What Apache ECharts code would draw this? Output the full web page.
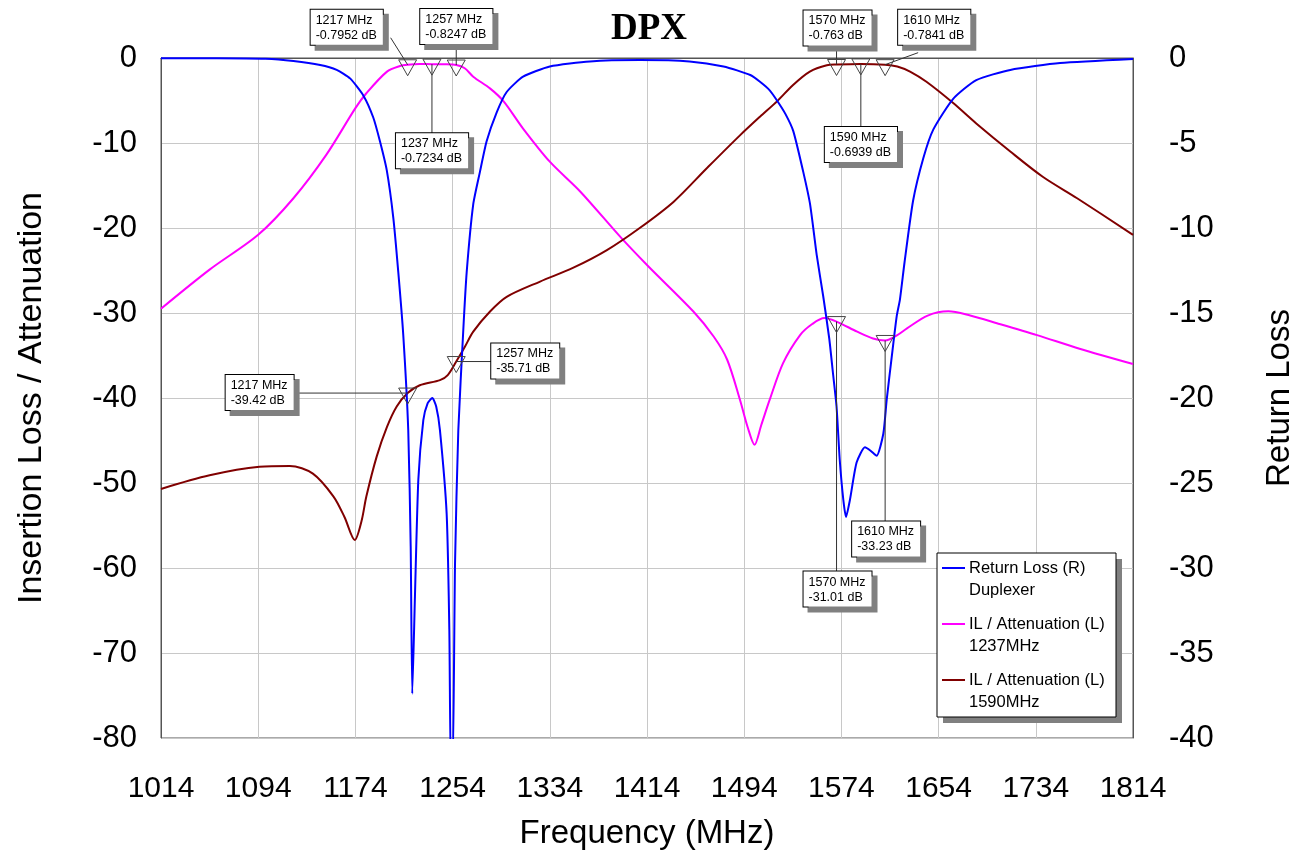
<!DOCTYPE html>
<html>
<head>
<meta charset="utf-8">
<title>DPX</title>
<script src="https://cdn.jsdelivr.net/npm/echarts@6/dist/echarts.min.js"></script>
<style>html,body{margin:0;background:#fff}#main{width:1308px;height:858px}</style>
</head>
<body>
<div id="main"></div>
<script>
// x axis runs from 1014 MHz with a tick every 80 MHz, so data is plotted as offset from F0
var F0 = 1014;

// Return Loss (R) Duplexer - right axis
var rlFreq = [1014, 1060, 1100, 1123, 1145, 1158.6, 1169.6, 1180.5, 1188.7, 1194.2, 1199.8, 1205.2, 1209.3, 1213.4,
  1217.5, 1219.5, 1220.8, 1223, 1225.8, 1229.9, 1233.5, 1237.3, 1240.5, 1243.6, 1249.1, 1251.3, 1252.6, 1254,
  1256, 1258.7, 1262.8, 1265.6, 1271, 1276.5, 1282, 1290.3, 1298.5, 1312, 1334, 1367, 1408, 1449, 1477, 1499,
  1507, 1515, 1521, 1528, 1534.4, 1542.6, 1548.2, 1553.7, 1559, 1564, 1567, 1570, 1572.6, 1575.6, 1577.8, 1581,
  1586.5, 1593.4, 1598, 1603, 1608.5, 1611.3, 1615.4, 1619.5, 1622.2, 1626, 1633, 1641.4, 1649.7, 1666, 1685,
  1713, 1754, 1814];
var rlDb = [-0.02, -0.02, -0.05, -0.18, -0.41, -0.7, -1.2, -2.2, -3.5, -4.9, -6.6, -9.4, -12.6, -16.3,
  -21.9, -28.7, -37.4, -31.7, -24.8, -21.3, -20.3, -20.0, -20.5, -21.9, -26.8, -33.6, -42, -42,
  -29.7, -21.9, -16.0, -12.6, -8.6, -6.7, -4.9, -3.2, -2.0, -1.1, -0.5, -0.2, -0.12, -0.2, -0.5, -1.0,
  -1.4, -1.9, -2.5, -3.3, -4.3, -6.7, -8.6, -11.6, -14.0, -16.5, -18.5, -20.5, -23.6, -26.0, -27.0, -26.0,
  -23.8, -22.9, -23.1, -23.4, -22.1, -20.1, -17.6, -15.2, -14.2, -12.0, -8.4, -5.9, -4.2, -2.4, -1.3,
  -0.7, -0.3, -0.06];

// IL / Attenuation (L) 1237MHz
var il1237Freq = [1014, 1054, 1094, 1123, 1150, 1174, 1183, 1200, 1210.7, 1217, 1227, 1237, 1247, 1257, 1264,
  1271, 1285, 1296, 1312, 1334, 1359, 1393, 1415, 1452, 1469, 1480, 1490.5, 1497, 1502.5, 1508, 1515, 1526,
  1540, 1550, 1560, 1570, 1587, 1600, 1610, 1620, 1628, 1645, 1662, 1680, 1702, 1735, 1770, 1814];
var il1237Db = [-29.5, -24.9, -20.8, -16.5, -11.4, -5.9, -4.15, -1.6, -0.94, -0.7952, -0.72, -0.7234, -0.74, -0.8247, -1.2,
  -2.2, -3.6, -5.1, -8.3, -12.2, -15.7, -21.2, -24.5, -29.8, -32.8, -35.5, -40.2, -43.5, -45.5, -43.2, -40.2, -35.9,
  -32.6, -31.3, -30.6, -31.01, -32.2, -33.0, -33.23, -32.6, -31.8, -30.3, -29.8, -30.3, -31.2, -32.6, -34.2, -36.0];

// IL / Attenuation (L) 1590MHz
var il1590Freq = [1014, 1054, 1095, 1120, 1139, 1156, 1165, 1173.5, 1179, 1183, 1191.5, 1200, 1208, 1217, 1227,
  1243.6, 1250, 1257, 1264, 1271, 1285, 1298.5, 1326, 1353, 1381, 1408, 1436, 1463, 1490.5, 1507, 1521, 1534,
  1548, 1562, 1570, 1590, 1610, 1620, 1630.5, 1644, 1666, 1685, 1713, 1740, 1768, 1814];
var il1590Db = [-50.7, -49.1, -48.1, -48.0, -48.9, -51.6, -54.0, -56.7, -54.5, -51.6, -46.9, -43.4, -41.0, -39.42, -38.5,
  -37.9, -37.3, -35.71, -34.0, -32.2, -29.8, -28.1, -26.3, -24.7, -22.6, -20.0, -16.9, -13.0, -9.1, -6.9, -5.1, -3.2,
  -1.6, -0.85, -0.763, -0.6939, -0.7841, -1.0, -1.6, -2.8, -5.3, -7.7, -11.0, -14.0, -16.5, -20.8];

// markers (all read on the left axis)
var mkFreq = [1217, 1237, 1257, 1570, 1590, 1610, 1217, 1257, 1570, 1610];
var mkDb = [-0.7952, -0.7234, -0.8247, -0.763, -0.6939, -0.7841, -39.42, -35.71, -31.01, -33.23];

var legendNames = [['Return Loss (R)', 'Duplexer'], ['IL / Attenuation (L)', '1237MHz'], ['IL / Attenuation (L)', '1590MHz']];
var colors = ['#0000ff', '#ff00ff', '#800000'];

// label box offset from marker point, and leader line start offset
var mkBox = [[-97, -55], [-36, 69], [-36, -56], [-33, -54], [-36, 63], [13, -55], [-182, -18], [35, -18], [-33, 250], [-33, 181]];
var mkLead = [[-17, -27], [0, 69], [0, -22], [0, -19], [0, 63], [33, -12], [-111, 0], [35, 0], [0, 250], [0, 181]];

function pairs(fs, vs) {
  var out = [];
  for (var i = 0; i < fs.length; i++) out.push([fs[i] - F0, vs[i]]);
  return out;
}

var FONT = '"Liberation Sans", Arial, sans-serif';
var myChart = echarts.init(document.getElementById('main'));

var option = {
  animation: false,
  backgroundColor: '#fff',
  title: {
    text: 'DPX', left: 606, top: 6,
    textStyle: { fontFamily: '"Liberation Serif", "Times New Roman", serif', fontWeight: 'bold', fontSize: 37, color: '#000' }
  },
  grid: { left: 161, right: 175, top: 58, bottom: 120, show: true, borderColor: '#555', borderWidth: 1 },
  xAxis: {
    type: 'value', min: 0, max: 800, interval: 80,
    name: 'Frequency (MHz)', nameLocation: 'middle', nameGap: 79,
    nameTextStyle: { fontFamily: FONT, fontSize: 33, color: '#000' },
    axisLine: { lineStyle: { color: '#555' } },
    axisTick: { show: false },
    axisLabel: { fontFamily: FONT, fontSize: 30, color: '#000', margin: 36, formatter: function (v) { return v + F0; } },
    splitLine: { lineStyle: { color: '#c8c8c8' } }
  },
  yAxis: [
    {
      type: 'value', min: -80, max: 0, interval: 10,
      name: 'Insertion Loss / Attenuation', nameLocation: 'middle', nameGap: 112, nameRotate: 90,
      nameTextStyle: { fontFamily: FONT, fontSize: 34, color: '#000' },
      axisLine: { show: true, lineStyle: { color: '#555' } },
      axisTick: { show: false },
      axisLabel: { fontFamily: FONT, fontSize: 31, color: '#000', margin: 24 },
      splitLine: { lineStyle: { color: '#c8c8c8' } }
    },
    {
      type: 'value', min: -40, max: 0, interval: 5, position: 'right',
      name: 'Return Loss', nameLocation: 'middle', nameGap: 130, nameRotate: 90,
      nameTextStyle: { fontFamily: FONT, fontSize: 33, color: '#000' },
      axisLine: { show: true, lineStyle: { color: '#555' } },
      axisTick: { show: false },
      axisLabel: { fontFamily: FONT, fontSize: 31, color: '#000', margin: 36 },
      splitLine: { show: false }
    }
  ],
  series: [
    { name: 'Return Loss (R) Duplexer', type: 'line', yAxisIndex: 1, data: pairs(rlFreq, rlDb), showSymbol: false, smooth: 0.2,
      lineStyle: { color: colors[0], width: 2 }, z: 3 },
    { name: 'IL / Attenuation (L) 1237MHz', type: 'line', yAxisIndex: 0, data: pairs(il1237Freq, il1237Db), showSymbol: false, smooth: 0.3,
      lineStyle: { color: colors[1], width: 2 }, z: 2 },
    { name: 'IL / Attenuation (L) 1590MHz', type: 'line', yAxisIndex: 0, data: pairs(il1590Freq, il1590Db), showSymbol: false, smooth: 0.3,
      lineStyle: { color: colors[2], width: 2 }, z: 2 }
  ]
};
myChart.setOption(option);

// marker triangles, leader lines and value boxes
var g = [];
for (var i = 0; i < mkFreq.length; i++) {
  var p = myChart.convertToPixel({ xAxisIndex: 0, yAxisIndex: 0 }, [mkFreq[i] - F0, mkDb[i]]);
  g.push({ type: 'line', z: 50, shape: { x1: p[0] + mkLead[i][0], y1: p[1] + mkLead[i][1], x2: p[0], y2: p[1] },
    style: { stroke: '#333', lineWidth: 1 } });
  g.push({ type: 'polygon', z: 51, shape: { points: [[p[0] - 9, p[1] - 5], [p[0] + 9, p[1] - 5], [p[0], p[1] + 11]] },
    style: { fill: 'rgba(255,255,255,0)', stroke: '#444', lineWidth: 1 } });
  g.push({ type: 'text', z: 52, x: p[0] + mkBox[i][0], y: p[1] + mkBox[i][1],
    style: { text: mkFreq[i] + ' MHz\n' + mkDb[i] + ' dB', font: '12.5px ' + FONT, fill: '#000', lineHeight: 15,
      backgroundColor: '#fff', borderColor: '#000', borderWidth: 1, padding: [3, 6, 2, 5],
      shadowColor: '#808080', shadowOffsetX: 5, shadowOffsetY: 5, shadowBlur: 0 } });
}

// legend box
g.push({ type: 'rect', z: 60, shape: { x: 943, y: 559, width: 179, height: 164 }, style: { fill: '#808080' } });
g.push({ type: 'rect', z: 61, shape: { x: 937, y: 553, width: 179, height: 164 }, style: { fill: '#fff', stroke: '#000', lineWidth: 1 } });
for (var k = 0; k < legendNames.length; k++) {
  var ly = 568 + k * 56;
  g.push({ type: 'line', z: 62, shape: { x1: 942, y1: ly, x2: 965, y2: ly }, style: { stroke: colors[k], lineWidth: 2 } });
  g.push({ type: 'text', z: 62, x: 969, y: ly, style: { text: legendNames[k][0], font: '16.5px ' + FONT, fill: '#000', textVerticalAlign: 'middle' } });
  g.push({ type: 'text', z: 62, x: 969, y: ly + 22, style: { text: legendNames[k][1], font: '16.5px ' + FONT, fill: '#000', textVerticalAlign: 'middle' } });
}
myChart.setOption({ graphic: g });
</script>
</body>
</html>
